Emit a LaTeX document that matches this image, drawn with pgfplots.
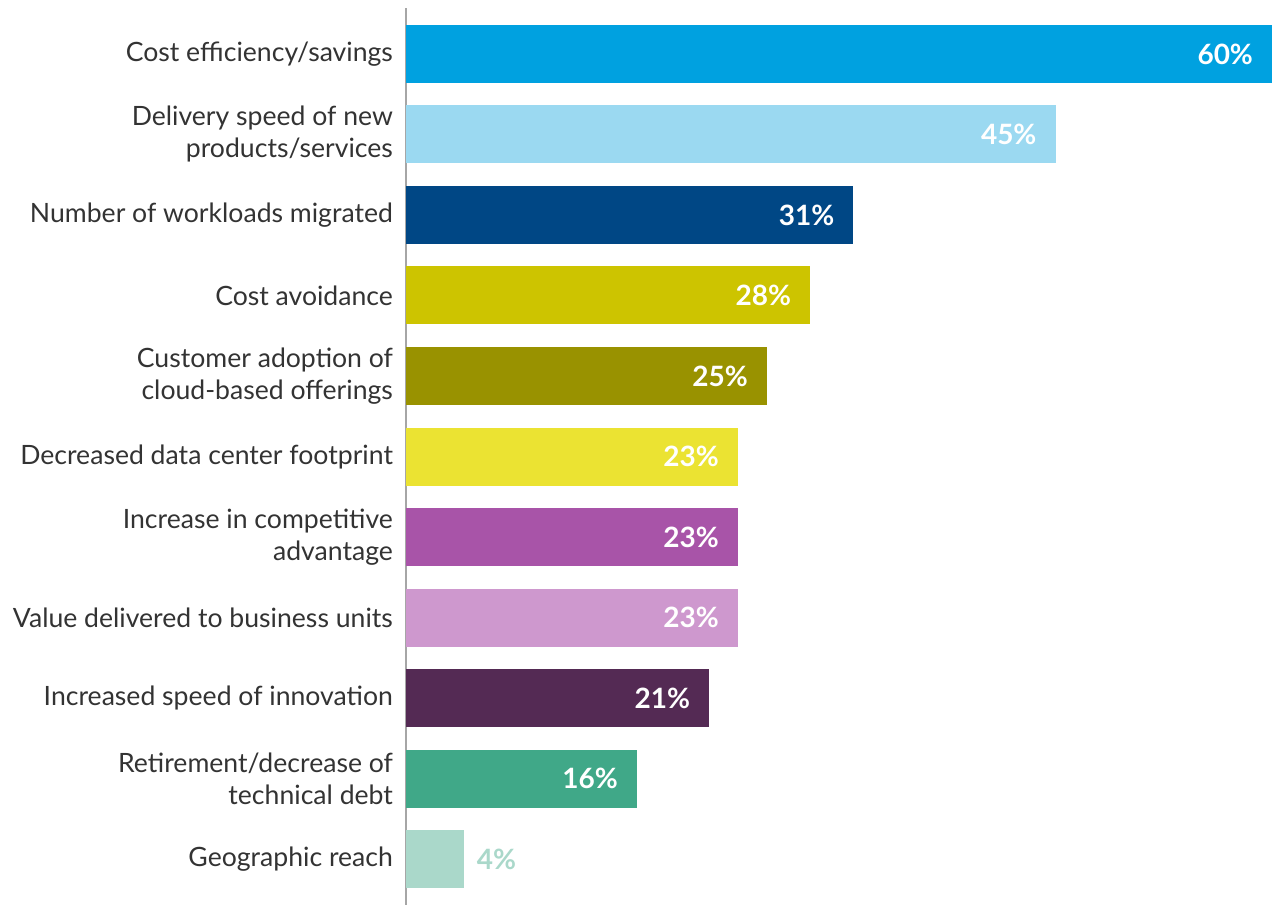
\documentclass[border=0pt]{standalone}
\usepackage{pgfplots}
\pgfplotsset{compat=1.18}
\usepackage{fontspec}
\setmainfont{Lato}

\definecolor{cA}{RGB}{0,161,224}
\definecolor{cB}{RGB}{155,217,241}
\definecolor{cC}{RGB}{0,71,133}
\definecolor{cD}{RGB}{205,196,0}
\definecolor{cE}{RGB}{153,146,0}
\definecolor{cF}{RGB}{235,227,50}
\definecolor{cG}{RGB}{168,84,168}
\definecolor{cH}{RGB}{206,152,206}
\definecolor{cI}{RGB}{84,42,84}
\definecolor{cJ}{RGB}{64,168,136}
\definecolor{cK}{RGB}{170,216,202}
\definecolor{txt}{RGB}{51,51,51}

\begin{document}
\begin{tikzpicture}
\useasboundingbox (-203pt,0pt) rectangle (433pt,452.5pt);
\begin{axis}[
    at={(0pt,0pt)}, anchor=south west,
    width=433pt, height=448.5pt,
    scale only axis,
    xbar, bar width=29pt, bar shift=0pt,
    xmin=0, xmax=60,
    ymin=-0.571, ymax=10.571,
    y dir=reverse,
    hide x axis,
    axis y line*=left,
    y axis line style={draw=black!35, line width=0.8pt},
    ytick={0,...,10},
    major tick length=0pt,
    yticklabels={
        Cost efficiency/savings,
        {Delivery speed of new\\products/services},
        Number of workloads migrated,
        Cost avoidance,
        {Customer adoption of\\cloud-based offerings},
        Decreased data center footprint,
        {Increase in competitive\\advantage},
        Value delivered to business units,
        Increased speed of innovation,
        {Retirement/decrease of\\technical debt},
        Geographic reach},
    yticklabel style={align=right, text=txt, font=\fontsize{13.3}{16}\selectfont, xshift=-3pt},
    clip=false,
    /pgf/number format/assume math mode=true,
    nodes near coords={\pgfmathprintnumber{\pgfplotspointmeta}\%},
    every node near coord/.append style={font=\fontsize{14}{16}\selectfont\bfseries, text=white, anchor=east, xshift=-6pt},
]
\addplot[fill=cA, draw=none] coordinates {(60,0)};
\addplot[fill=cB, draw=none] coordinates {(45,1)};
\addplot[fill=cC, draw=none] coordinates {(31,2)};
\addplot[fill=cD, draw=none] coordinates {(28,3)};
\addplot[fill=cE, draw=none] coordinates {(25,4)};
\addplot[fill=cF, draw=none] coordinates {(23,5)};
\addplot[fill=cG, draw=none] coordinates {(23,6)};
\addplot[fill=cH, draw=none] coordinates {(23,7)};
\addplot[fill=cI, draw=none] coordinates {(21,8)};
\addplot[fill=cJ, draw=none] coordinates {(16,9)};
\addplot[fill=cK, draw=none, every node near coord/.append style={text=cK, anchor=west, xshift=9pt}] coordinates {(4,10)};
\end{axis}
\end{tikzpicture}
\end{document}
